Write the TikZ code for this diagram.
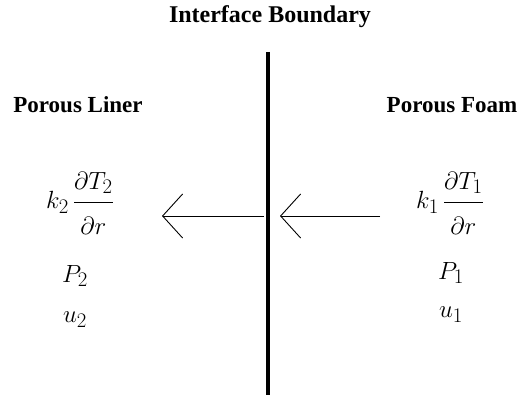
\documentclass[tikz,border=0pt]{standalone}
\usepackage{fontspec}
\setmainfont{Liberation Serif}
\usepackage{amsmath}
\usetikzlibrary{arrows.meta}
\newcommand{\numgap}{\rule[-10pt]{0pt}{0pt}}
\newcommand{\dengap}{\rule{0pt}{28pt}}
\begin{document}
\begin{tikzpicture}[x=1pt,y=-1pt,
  lbl/.style={font=\bfseries\fontsize{23}{26}\selectfont, inner sep=0pt},
  eq/.style={font=\fontsize{30}{34}\selectfont, inner sep=0pt},
  flux/.style={line width=0.9pt, -{Straight Barb[length=20pt,width=44pt,line width=0.9pt]}}]
\useasboundingbox (0,0) rectangle (531,395);
\node[lbl,font=\bfseries\fontsize{24}{27}\selectfont] (title) at (270,17) {Interface Boundary};
\coordinate (top) at (268,52);
\coordinate (bot) at (268,395);
\draw[line width=4.5pt] (top) -- (bot);
\node[lbl] (liner) at (78,105) {Porous Liner};
\node[lbl] (foam) at (452,105) {Porous Foam};
\node[eq] (k2) at (80,203) {$k_2\,\dfrac{\partial T_2\numgap}{\dengap\partial r}$};
\node[eq] (p2) at (75,276) {$P_2$};
\node[eq] (u2) at (75,320) {$u_2$};
\node[eq] (k1) at (450,203) {$k_1\,\dfrac{\partial T_1\numgap}{\dengap\partial r}$};
\node[eq] (p1) at (451,273) {$P_1$};
\node[eq] (u1) at (451,315) {$u_1$};
\coordinate (la) at (264,216);
\coordinate (lt) at (162,216);
\coordinate (ra) at (380,216);
\coordinate (rt) at (280,216);
\draw[flux] (la) -- (lt);
\draw[flux] (ra) -- (rt);
\end{tikzpicture}
\end{document}
